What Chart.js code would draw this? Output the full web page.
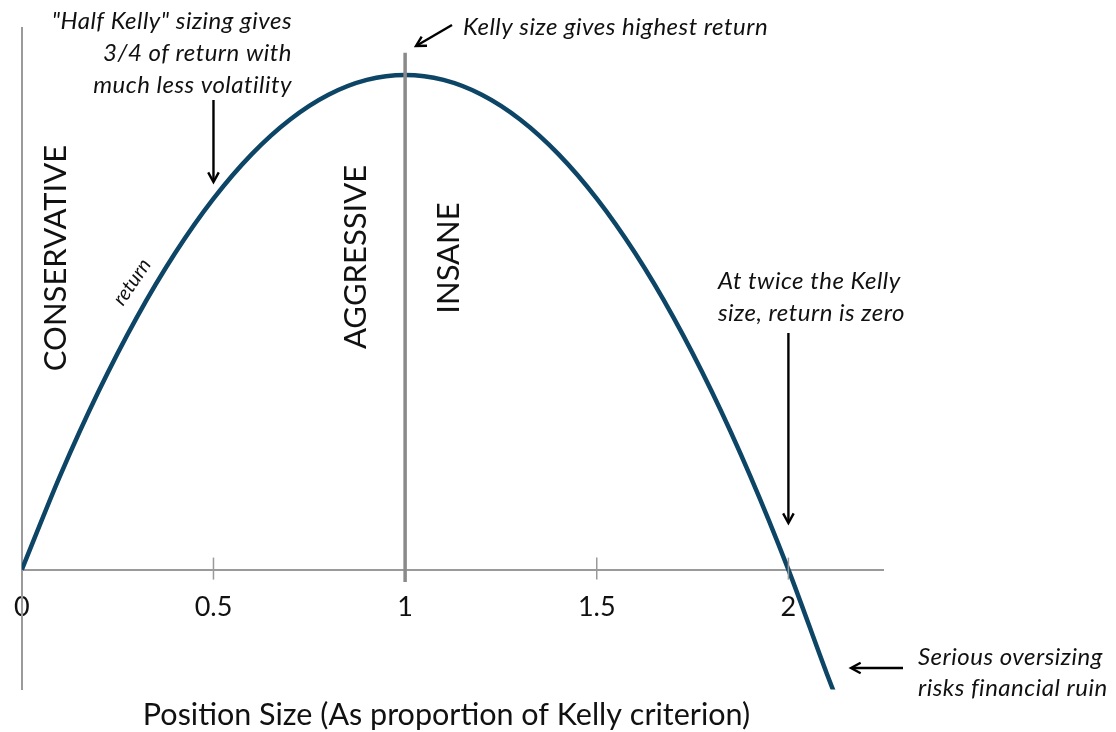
<!DOCTYPE html>
<html><head><meta charset="utf-8">
<script src="https://cdn.jsdelivr.net/npm/chart.js@4"></script>
<style>html,body{margin:0;padding:0;background:#fff}#wrap{width:1116px;height:732px;position:relative}</style>
</head><body><div id="wrap"><canvas id="c"></canvas></div>
<script>
// ---- data ----
const positionSize = [0, 0.1, 0.2, 0.3, 0.4, 0.5, 0.6, 0.7, 0.8, 0.9, 1.0, 1.1, 1.2, 1.3, 1.4, 1.5, 1.6, 1.7, 1.8, 1.9, 2.0, 2.1, 2.12];
const returnValues = [0, 0.19, 0.36, 0.51, 0.64, 0.75, 0.84, 0.91, 0.96, 0.99, 1.0, 0.99, 0.96, 0.91, 0.84, 0.75, 0.64, 0.51, 0.36, 0.19, 0, -0.21, -0.25];
const kellyLineX = [1, 1];
const kellyLineY = [-0.025, 1.045];
const tickValues = [0, 0.5, 1, 1.5, 2];
const tickLabels = ['0', '0.5', '1', '1.5', '2'];
const zoneLabels = ['CONSERVATIVE', 'AGGRESSIVE', 'INSANE'];
const curveLabel = 'return';
const xTitle = 'Position Size (As proportion of Kelly criterion)';
const noteHalf = ['"Half Kelly" sizing gives', '3/4 of return with', 'much less volatility'];
const noteKelly = ['Kelly size gives highest return'];
const noteTwice = ['At twice the Kelly', 'size, return is zero'];
const noteRuin = ['Serious oversizing', 'risks financial ruin'];

const FONT = 'Lato, "Open Sans", sans-serif';

function arrow(ctx, x1, y1, x2, y2) {
  const a = Math.atan2(y2 - y1, x2 - x1);
  const L = 11, W = 0.5;
  ctx.save();
  ctx.strokeStyle = '#000';
  ctx.lineWidth = 2.4;
  ctx.lineCap = 'butt';
  ctx.beginPath();
  ctx.moveTo(x1, y1);
  ctx.lineTo(x2 - Math.cos(a) * 2, y2 - Math.sin(a) * 2);
  ctx.stroke();
  ctx.lineJoin = 'miter';
  ctx.beginPath();
  ctx.moveTo(x2 - L * Math.cos(a - W), y2 - L * Math.sin(a - W));
  ctx.lineTo(x2, y2);
  ctx.lineTo(x2 - L * Math.cos(a + W), y2 - L * Math.sin(a + W));
  ctx.stroke();
  ctx.restore();
}

const annotations = {
  id: 'annotations',
  afterDatasetsDraw(chart) {
    const ctx = chart.ctx;
    const xs = chart.scales.x, ys = chart.scales.y;
    const y0 = ys.getPixelForValue(0);
    ctx.save();
    // small tick marks crossing the axis
    ctx.strokeStyle = '#9a9a9a';
    ctx.lineWidth = 1.5;
    [0.5, 1.5, 2].forEach(v => {
      const px = xs.getPixelForValue(v);
      ctx.beginPath(); ctx.moveTo(px, y0 - 12); ctx.lineTo(px, y0 + 10); ctx.stroke();
    });
    // zone labels (rotated)
    ctx.fillStyle = '#111';
    ctx.font = '31px ' + FONT;
    ctx.textAlign = 'center';
    ctx.textBaseline = 'middle';
    const zones = [[56, 258], [356, 257], [449, 258]];
    zoneLabels.forEach((t, i) => {
      ctx.save();
      ctx.translate(zones[i][0], zones[i][1]);
      ctx.rotate(-Math.PI / 2);
      ctx.fillText(t, 0, 0);
      ctx.restore();
    });
    // curve label
    ctx.save();
    ctx.font = 'italic 20px ' + FONT;
    ctx.translate(132, 282);
    ctx.rotate(-56 * Math.PI / 180);
    ctx.fillText(curveLabel, 0, 0);
    ctx.restore();
    // notes
    ctx.font = 'italic 24px ' + FONT;
    if ('letterSpacing' in ctx) ctx.letterSpacing = '0.5px';
    ctx.textBaseline = 'alphabetic';
    ctx.textAlign = 'right';
    noteHalf.forEach((t, i) => ctx.fillText(t, 292, 29 + i * 32));
    ctx.textAlign = 'left';
    noteKelly.forEach((t, i) => ctx.fillText(t, 463, 35 + i * 32));
    noteTwice.forEach((t, i) => ctx.fillText(t, 718, 289 + i * 32));
    noteRuin.forEach((t, i) => ctx.fillText(t, 918, 665 + i * 31));
    if ('letterSpacing' in ctx) ctx.letterSpacing = '0px';
    // arrows
    const xHalf = xs.getPixelForValue(0.5);
    arrow(ctx, xHalf, 100, xHalf, 182);
    arrow(ctx, 452, 25, 416, 46);
    const xTwo = xs.getPixelForValue(2);
    arrow(ctx, xTwo, 333, xTwo, 523);
    arrow(ctx, 903, 668, 851, 668);
    ctx.restore();
  }
};

new Chart(document.getElementById('c'), {
  type: 'line',
  data: {
    datasets: [
      {
        label: 'Kelly',
        data: kellyLineX.map((x, i) => ({ x, y: kellyLineY[i] })),
        borderColor: '#8a8a8a',
        borderWidth: 3.5,
        pointRadius: 0,
        tension: 0,
        order: 0
      },
      {
        label: 'return',
        data: positionSize.map((x, i) => ({ x, y: returnValues[i] })),
        borderColor: '#0d4567',
        borderWidth: 4.5,
        pointRadius: 0,
        cubicInterpolationMode: 'monotone',
        order: 1
      }
    ]
  },
  options: {
    responsive: true,
    maintainAspectRatio: false,
    animation: false,
    events: [],
    layout: { autoPadding: false, padding: { left: 10, right: 233, top: 28, bottom: 0 } },
    plugins: {
      legend: { display: false },
      tooltip: { enabled: false },
      title: {
        display: true,
        position: 'bottom',
        text: xTitle,
        color: '#111',
        font: { family: FONT, size: 30.5, weight: 'normal', lineHeight: 1 },
        padding: { top: 10, bottom: 2 }
      }
    },
    scales: {
      x: {
        type: 'linear',
        position: { y: 0 },
        min: 0,
        max: 2.2468,
        afterBuildTicks: s => { s.ticks = tickValues.map(v => ({ value: v })); },
        ticks: {
          autoSkip: false,
          maxRotation: 0,
          padding: 14,
          color: '#111',
          font: { family: FONT, size: 27 },
          callback: (v) => { const i = tickValues.indexOf(v); return i >= 0 ? tickLabels[i] : ''; }
        },
        grid: { display: false },
        border: { display: true, color: '#9a9a9a', width: 2 }
      },
      y: {
        min: -0.2424,
        max: 1.0949,
        ticks: { display: false },
        grid: { display: false },
        border: { display: true, color: '#9a9a9a', width: 2 }
      }
    }
  },
  plugins: [annotations]
});
</script>
</body></html>
